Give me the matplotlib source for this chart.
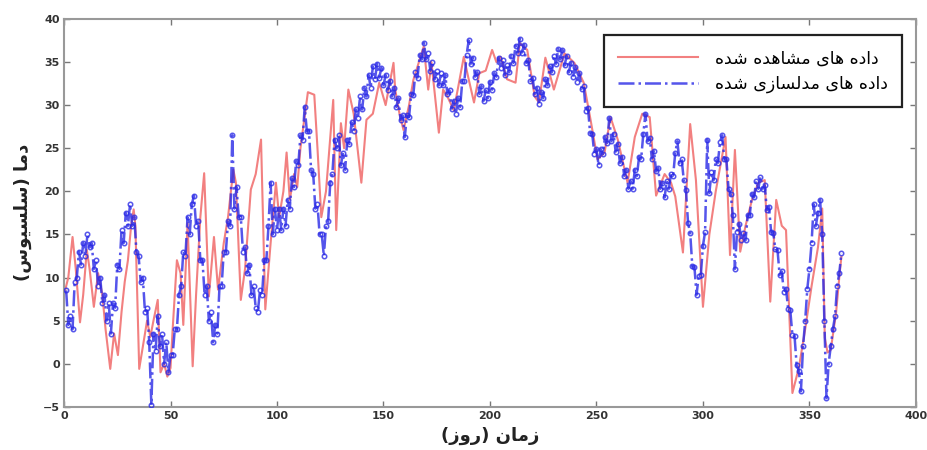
import matplotlib
matplotlib.use("Agg")
import matplotlib.pyplot as plt
import numpy as np

# ---------------- data ----------------
obs_days = [0, 2, 4, 5.5, 7.5, 9, 10.7, 12, 14, 16, 18, 19.5, 21.7, 23.5, 25.3, 27, 28.5, 30, 31.5,
            32.7, 33.5, 35.3, 37, 39, 40.5, 42, 44, 45.3, 47, 48.5, 50, 51, 53, 54.7, 56, 58, 60.4,
            62, 64, 65.8, 68, 70.4, 72.3, 75, 77, 79.5, 80.7, 83, 85, 87.7, 90, 92.5, 94.5, 97,
            99.5, 101, 103, 104.5, 106, 108, 109.5, 111, 114.5, 117.5, 119, 120.8, 123, 126.4,
            127.8, 130, 131.5, 133.5, 136, 139.6, 142, 145, 148, 151, 154.7, 155.5, 157.5, 159.4,
            162, 164, 166, 168.9, 171, 172.5, 176, 178, 180, 183, 185, 187.7, 190, 192.5, 195, 198,
            201, 203, 205, 208, 212, 214, 217.5, 221, 223, 226, 230, 235, 239.6, 244, 247, 250.5,
            253.8, 256.6, 260, 264.6, 268, 271.5, 275, 278, 282, 285, 287, 290.6, 294, 296.7, 300,
            303, 306, 310.6, 312.7, 315, 317.5, 320, 323, 326, 329, 331.6, 334.4, 337, 339, 342,
            345, 348, 351, 354, 356, 357.2, 358.5, 360, 362.5, 364, 365]
obs_temp = [8, 10, 14.7, 11, 4.8, 8, 13.2, 11, 6.6, 10.5, 8, 4, -0.6, 3.5, 1, 6, 9.5, 12, 16,
            17.9, 16, -0.6, 2, 5, 3.1, 5, 7.4, -1, 0, -1.5, -0.5, 4, 12, 10.5, 4.5, 16.3, -0.3,
            8, 17, 22.1, 7.8, 14.7, 8.6, 14, 17, 22.5, 21, 7.4, 11, 20.2, 22, 26, 6.3, 14,
            21, 17, 20, 24.5, 19, 22, 20.5, 25, 31.5, 31.2, 25, 17, 20, 30.6,
            15.5, 27.9, 25, 31.8, 29, 21, 28.3, 29, 32.6, 30, 34.9, 31.8, 29, 27.1,
            30, 32.9, 34.5, 36.8, 31.8, 35, 26.8, 31.8, 31, 29.4, 32, 35.6, 33, 30.3, 33.7, 34,
            36.4, 35, 35.6, 33, 32.6, 37.2, 36.4, 31, 30.3, 35.5, 31.8, 36, 34.9, 32.6, 28.6, 23.7,
            24.5, 28.6, 26, 21, 26.3, 29, 28.6, 19.5, 22, 21, 19.4, 12.9, 27.8, 21.3, 6.6,
            15, 20, 26.3, 12.6, 24.8, 13, 16, 19, 21, 21.3, 7.2, 19, 16, 15.5, -3.4,
            -0.5, 4, 9, 13.5, 18, 3, 1.3, 1.6, 5.9, 10, 12.4]

mod_days = list(range(1, 366))
mod_temp = [
    8.5, 4.5, 5.5, 4, 9.5, 10, 13, 11.5, 14, 12.5,
    15, 13.5, 14, 11, 12, 9, 10, 7, 8, 5,
    7, 3.5, 7, 6.5, 11.5, 11, 15.5, 14, 17.5, 16,
    18.5, 16, 17, 13, 12.5, 9.5, 10, 6, 6.5, 2.5,
    -4.8, 3.5, 1.5, 5.5, 2, 3.5, 0, 2.5, -1, 1,
    1, 4, 4, 8, 9, 13, 12.5, 17, 15, 18.5,
    19.5, 16, 16.5, 12, 12, 8, 9, 5, 6, 2.5,
    4.5, 3.5, 9, 9, 13, 13, 16.5, 16, 26.5, 18,
    20.5, 17, 17, 13, 13.5, 10.5, 11.5, 8, 9, 6.5,
    6, 8.5, 8, 12, 12, 16, 21, 15, 18, 15.5,
    18, 15.5, 18, 16, 19, 18, 21.5, 20.5, 23.5, 23,
    26.5, 26, 29.8, 27, 27, 22.5, 22, 18, 18.5, 15,
    15, 12.5, 16, 16.5, 21, 22, 26, 25, 26.5, 23,
    24.5, 22.5, 26, 25.5, 28, 27, 29.5, 28.5, 31, 29.5,
    32, 31, 33.5, 32, 34.5, 33, 34.8, 33.2, 34.3, 32.3,
    33.5, 31.8, 32.8, 31, 32, 29.8, 30.8, 28.3, 28.8, 26.3,
    28.8, 28.6, 31.3, 31.2, 33.8, 33.2, 35.8, 35.3, 37.2, 35.3,
    36, 34, 35, 33, 34, 32.3, 33.7, 32.3, 33.5, 31.3,
    31.7, 29.6, 30.5, 29, 30.8, 29.8, 32.8, 32.8, 35.8, 37.5,
    34.8, 35.5, 33.3, 33.8, 31.3, 32.2, 30.5, 31.7, 30.8, 32.7,
    31.8, 33.7, 33.3, 35.5, 34.3, 35.2, 33.5, 34.7, 33.8, 35.7,
    34.9, 36.9, 36.1, 37.7, 36.1, 37, 34.9, 35.2, 32.8, 33.2,
    31.3, 32, 30.1, 31.5, 30.8, 33, 32.3, 34.5, 33.8, 35.7,
    34.8, 36.5, 35.3, 36.4, 34.6, 35.7, 33.8, 34.9, 33.3, 34.4,
    32.7, 33.7, 31.9, 32.2, 29.3, 29.7, 26.8, 26.7, 24.3, 24.9,
    23, 24.9, 24.3, 26.3, 25.6, 28.5, 25.8, 26.7, 24.6, 25.5,
    23.3, 24, 21.8, 22.5, 20.3, 21.2, 20.3, 22.5, 21.8, 24,
    23.8, 26.7, 29, 25.8, 26.2, 23.8, 24.7, 22.3, 22.7, 20.3,
    21, 19.3, 21.2, 20.3, 22, 21.8, 24.5, 25.8, 23.3, 23.7,
    21.3, 20.2, 16.3, 15.2, 11.3, 11.2, 8, 10.2, 10.3, 13.7,
    15.3, 26, 19.8, 22.2, 21.3, 23.7, 23.3, 25.7, 26.5, 23.8,
    23.7, 20.3, 19.7, 17.3, 11, 15.3, 16.2, 14.3, 15.2, 14.3,
    17.2, 17.3, 19.7, 19.3, 21.2, 20.3, 21.7, 20.3, 20.7, 17.8,
    18.2, 15.3, 15.2, 13.3, 13.2, 10.3, 10.7, 8.3, 8.7, 6.3,
    6.2, 3.3, 3.2, -0.2, -0.8, -3.2, 2, 5, 8.7, 11,
    14, 18.5, 16, 17.5, 19, 15, 5, -4, 0, 2,
    4, 5.5, 9, 10.5, 12.8]

x_ticks = [0, 50, 100, 150, 200, 250, 300, 350, 400]
y_ticks = [-5, 0, 5, 10, 15, 20, 25, 30, 35, 40]

label_obs = "داده های مشاهده شده"
label_mod = "داده های مدلسازی شده"
label_x = "زمان (روز)"
label_y = "دما (سلسیوس)"

# ---------------- simple Persian shaping for display ----------------
FORMS = {
    'ا': ('\uFE8D', '\uFE8E', None, None),
    'د': ('\uFEA9', '\uFEAA', None, None),
    'ر': ('\uFEAD', '\uFEAE', None, None),
    'ز': ('\uFEAF', '\uFEB0', None, None),
    'و': ('\uFEED', '\uFEEE', None, None),
    'ه': ('\uFEE9', '\uFEEA', '\uFEEB', '\uFEEC'),
    'ی': ('\uFEEF', '\uFEF0', '\uFEF3', '\uFEF4'),
    'م': ('\uFEE1', '\uFEE2', '\uFEE3', '\uFEE4'),
    'ش': ('\uFEB5', '\uFEB6', '\uFEB7', '\uFEB8'),
    'ل': ('\uFEDD', '\uFEDE', '\uFEDF', '\uFEE0'),
    'س': ('\uFEB1', '\uFEB2', '\uFEB3', '\uFEB4'),
    'ن': ('\uFEE5', '\uFEE6', '\uFEE7', '\uFEE8'),
}


def shape(text):
    out = []
    n = len(text)
    for i, ch in enumerate(text):
        if ch not in FORMS:
            out.append(ch)
            continue
        prev = text[i - 1] if i > 0 else None
        nxt = text[i + 1] if i < n - 1 else None
        jp = prev in FORMS and FORMS[prev][2] is not None
        jn = nxt in FORMS and FORMS[ch][2] is not None
        iso, fin, ini, med = FORMS[ch]
        if jp and jn:
            out.append(med)
        elif jp:
            out.append(fin)
        elif jn:
            out.append(ini)
        else:
            out.append(iso)
    vis = ''.join(reversed(out))
    return vis.translate(str.maketrans({'(': ')', ')': '('}))


# ---------------- plot ----------------
fig = plt.figure(figsize=(9.28, 4.5), dpi=100)
ax = fig.add_axes([0.069, 0.096, 0.918, 0.862])

ax.plot(obs_days, obs_temp, color='#f28080', lw=1.5, label=shape(label_obs), zorder=2)
ax.plot(mod_days, mod_temp, color='#2a2ae6', lw=1.8, ls='-.', marker='o', ms=3.2,
        mfc='none', mew=1.1, alpha=0.8, label=shape(label_mod), zorder=3)

ax.set_xlim(0, 400)
ax.set_ylim(-5, 40)
ax.set_xticks(x_ticks)
ax.set_yticks(y_ticks)
ax.tick_params(direction='in', length=4, width=1, colors='#777777', top=True, right=True,
               labelsize=8, labelcolor='#333333', pad=3)
for t in ax.get_xticklabels() + ax.get_yticklabels():
    t.set_fontweight('bold')
for s in ax.spines.values():
    s.set_color('#999999')
    s.set_linewidth(1.5)

ax.set_xlabel(shape(label_x), family='DejaVu Sans', fontweight='bold', fontsize=13,
              color='#222222', labelpad=4)
ax.set_ylabel(shape(label_y), family='DejaVu Sans', fontweight='bold', fontsize=13,
              color='#222222', labelpad=8)

leg = ax.legend(loc='upper right', bbox_to_anchor=(0.994, 0.98),
                prop={'family': 'DejaVu Sans', 'size': 12.5},
                handlelength=4.6, handletextpad=1.0, frameon=True, fancybox=False,
                borderpad=0.8, labelspacing=0.45)
leg.get_frame().set_edgecolor('#222222')
leg.get_frame().set_linewidth(1.6)
leg.get_frame().set_alpha(1)
leg.legend_handles[1].set_marker('')

fig.savefig('out.png', dpi=100, facecolor='white')
